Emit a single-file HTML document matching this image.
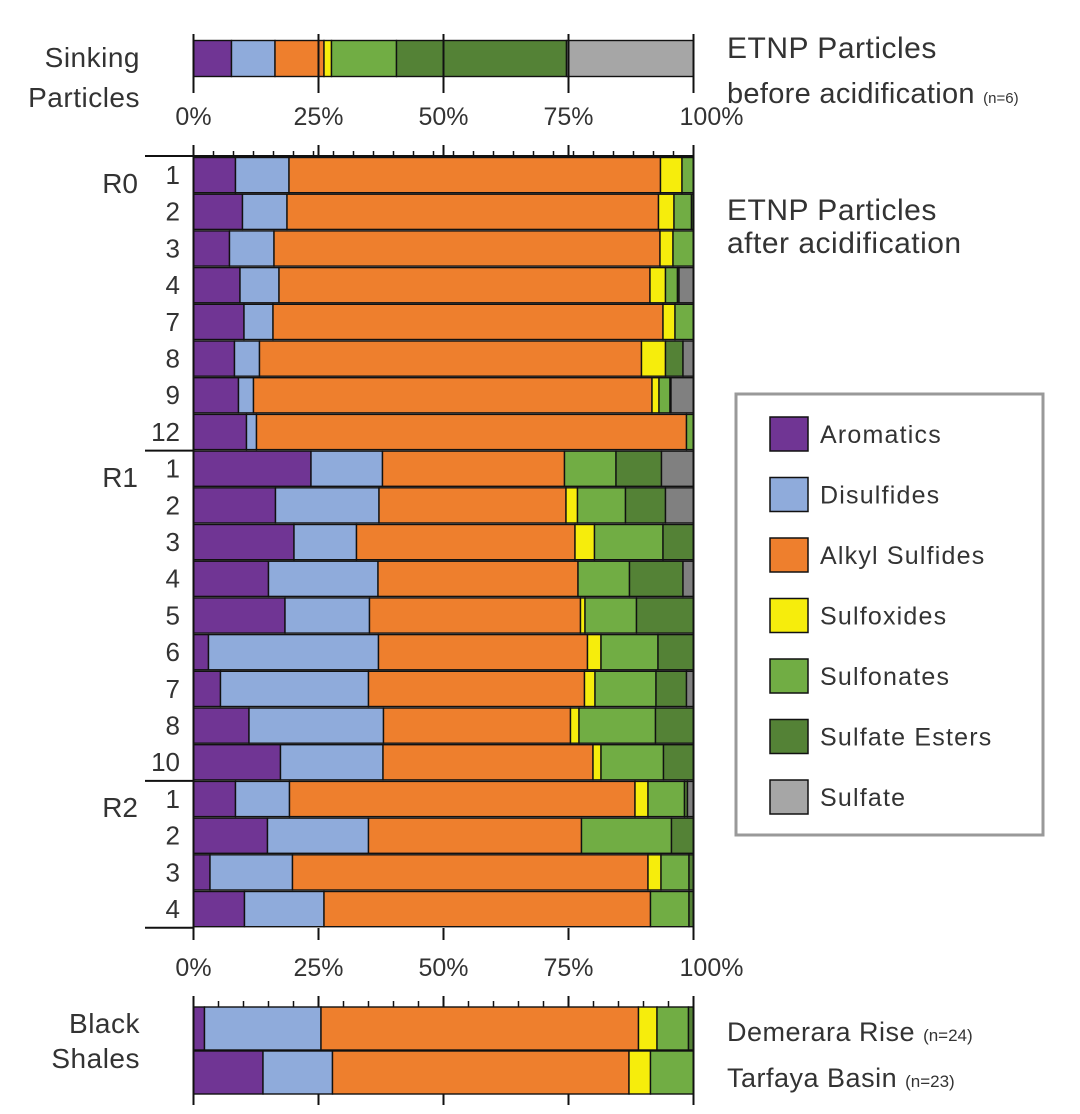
<!DOCTYPE html>
<html><head><meta charset="utf-8"><style>
body{margin:0;background:#fff;}
svg{display:block;font-family:"Liberation Sans",sans-serif;}
</style></head><body>
<svg id="s" width="1080" height="1114" xmlns="http://www.w3.org/2000/svg"></svg>
<script>
const C=['#703594','#8fabdb','#ee7f2d','#f6ed0c','#71ad44','#548236','#808080'];
const X0=193.5,W=500;
const s=document.getElementById('s');
let h='';
function px(p){return X0+p*W/100;}
function bar(y,hh,b,gray){
  let prev=0;
  for(let i=0;i<b.length;i++){
    const e=b[i]; if(e>prev+0.01){
      let col=C[i]; if(i==6&&gray) col=gray;
      h+=`<rect x="${px(prev)}" y="${y}" width="${px(e)-px(prev)}" height="${hh}" fill="${col}" stroke="#111" stroke-width="1.4"/>`;
    }
    prev=e;
  }
}
bar(40.5,36,[7.6,16.3,26.1,27.6,40.6,74.6,100],'#a6a6a6');
for(let p=0;p<=100;p+=25){h+=`<line x1="${px(p)}" x2="${px(p)}" y1="34" y2="93" stroke="#111" stroke-width="2"/>`;}
const rows=[
[8.4,19.1,93.4,97.7,100,100,100],
[9.8,18.7,93.0,96.1,99.6,100,100],
[7.2,16.1,93.3,95.9,100,100,100],
[9.3,17.1,91.3,94.4,96.8,97.1,100],
[10.1,15.9,93.9,96.3,100,100,100],
[8.2,13.2,89.6,94.4,94.4,97.9,100],
[9.0,12.0,91.7,93.1,95.3,95.5,100],
[10.6,12.6,98.6,98.6,100,100,100],
[23.5,37.8,74.2,74.2,84.5,93.6,100],
[16.4,37.1,74.5,76.8,86.4,94.4,100],
[20.1,32.6,76.3,80.2,93.9,100,100],
[15.0,36.9,76.9,76.9,87.2,97.9,100],
[18.3,35.2,77.4,78.3,88.6,100,100],
[3.0,37.0,78.8,81.5,92.9,100,100],
[5.4,35.0,78.2,80.3,92.5,98.6,100],
[11.1,38.0,75.4,77.1,92.4,100,100],
[17.4,37.9,79.9,81.5,94.0,100,100],
[8.4,19.2,88.3,90.9,98.2,98.8,100],
[14.8,35.0,77.6,77.6,95.6,100,100],
[3.3,19.8,90.9,93.5,99.1,100,100],
[10.2,26.1,91.4,91.4,99.1,100,100]];
const labels=['1','2','3','4','7','8','9','12','1','2','3','4','5','6','7','8','10','1','2','3','4'];
const P=36.7,Y0=157;
rows.forEach((r,i)=>{
  const y=Y0+i*P;
  bar(y+0.5,P-1.5,r);
  h+=`<text x="180" y="${y+27}" font-size="26" fill="#333" text-anchor="end">${labels[i]}</text>`;
});
h+=`<line x1="${px(0)}" x2="${px(0)}" y1="145" y2="940" stroke="#111" stroke-width="2"/>`;
h+=`<line x1="${px(100)}" x2="${px(100)}" y1="145" y2="940" stroke="#111" stroke-width="2"/>`;
[156,Y0+8*P,Y0+17*P,Y0+21*P].forEach(y=>{h+=`<line x1="145" x2="${px(0)}" y1="${y}" y2="${y}" stroke="#111" stroke-width="2"/>`;});
h+=`<line x1="${px(0)}" x2="${px(100)}" y1="156" y2="156" stroke="#111" stroke-width="2"/>`;
for(let p=0;p<=100;p+=4){h+=`<line x1="${px(p)}" x2="${px(p)}" y1="151" y2="156" stroke="#111" stroke-width="1.5"/>`;}
for(let p=0;p<=100;p+=25){
  h+=`<line x1="${px(p)}" x2="${px(p)}" y1="145" y2="156" stroke="#111" stroke-width="2"/>`;
  h+=`<line x1="${px(p)}" x2="${px(p)}" y1="928" y2="940" stroke="#111" stroke-width="2"/>`;
}
h+=`<text x="138" y="193" font-size="28" fill="#333" text-anchor="end">R0</text>`;
h+=`<text x="138" y="487" font-size="28" fill="#333" text-anchor="end">R1</text>`;
h+=`<text x="138" y="817" font-size="28" fill="#333" text-anchor="end">R2</text>`;
const tl=['0%','25%','50%','75%','100%'];
[125,976].forEach(y=>{tl.forEach((t,i)=>{h+=`<text x="${px(i*25)+(i==4?18:0)}" y="${y}" font-size="25" fill="#333" text-anchor="middle">${t}</text>`;});});
bar(1007,43,[2.2,25.5,89.0,92.7,99.0,100,100]);
bar(1051,43,[13.9,27.8,87.1,91.4,100,100,100]);
h+=`<line x1="${px(0)}" x2="${px(0)}" y1="996" y2="1094" stroke="#111" stroke-width="2"/>`;
h+=`<line x1="${px(100)}" x2="${px(100)}" y1="996" y2="1094" stroke="#111" stroke-width="2"/>`;
for(let p=0;p<=100;p+=5){h+=`<line x1="${px(p)}" x2="${px(p)}" y1="1001" y2="1007" stroke="#111" stroke-width="1.5"/>`;}
for(let p=0;p<=100;p+=25){h+=`<line x1="${px(p)}" x2="${px(p)}" y1="996" y2="1007" stroke="#111" stroke-width="2"/><line x1="${px(p)}" x2="${px(p)}" y1="1094" y2="1105" stroke="#111" stroke-width="2"/>`;}
const T=(x,y,t,a,fs,ls)=>{h+=`<text x="${x}" y="${y}" font-size="${fs||25}" letter-spacing="${ls||0}" fill="#333" text-anchor="${a||'start'}">${t}</text>`;};
T(140,67,'Sinking','end',28,0.5);T(140,107,'Particles','end',28,0.5);
T(727,58,'ETNP Particles','start',30,0.5);T(727,103,'before acidification <tspan font-size="15" letter-spacing="0">(n=6)</tspan>','start',29,0.3);
T(727,220,'ETNP Particles','start',30,0.5);T(727,253,'after acidification','start',30,0.5);
T(140,1033,'Black','end',28,0.5);T(140,1068,'Shales','end',28,0.5);
T(727,1041,'Demerara Rise <tspan font-size="17" letter-spacing="0">(n=24)</tspan>','start',27,0.5);
T(727,1087,'Tarfaya Basin <tspan font-size="17" letter-spacing="0">(n=23)</tspan>','start',27,0.5);
h+=`<rect x="736" y="394" width="307" height="441" fill="#fff" stroke="#999" stroke-width="3"/>`;
const L=['Aromatics','Disulfides','Alkyl Sulfides','Sulfoxides','Sulfonates','Sulfate Esters','Sulfate'];
const LC=C.slice(0,6).concat(['#a6a6a6']);
L.forEach((t,i)=>{const y=417+i*60.5;
h+=`<rect x="770" y="${y}" width="38" height="34" fill="${LC[i]}" stroke="#111" stroke-width="1.5"/>`;
T(820,y+26,t,'start',25,1.2);});
s.innerHTML=h;
</script>
</body></html>
